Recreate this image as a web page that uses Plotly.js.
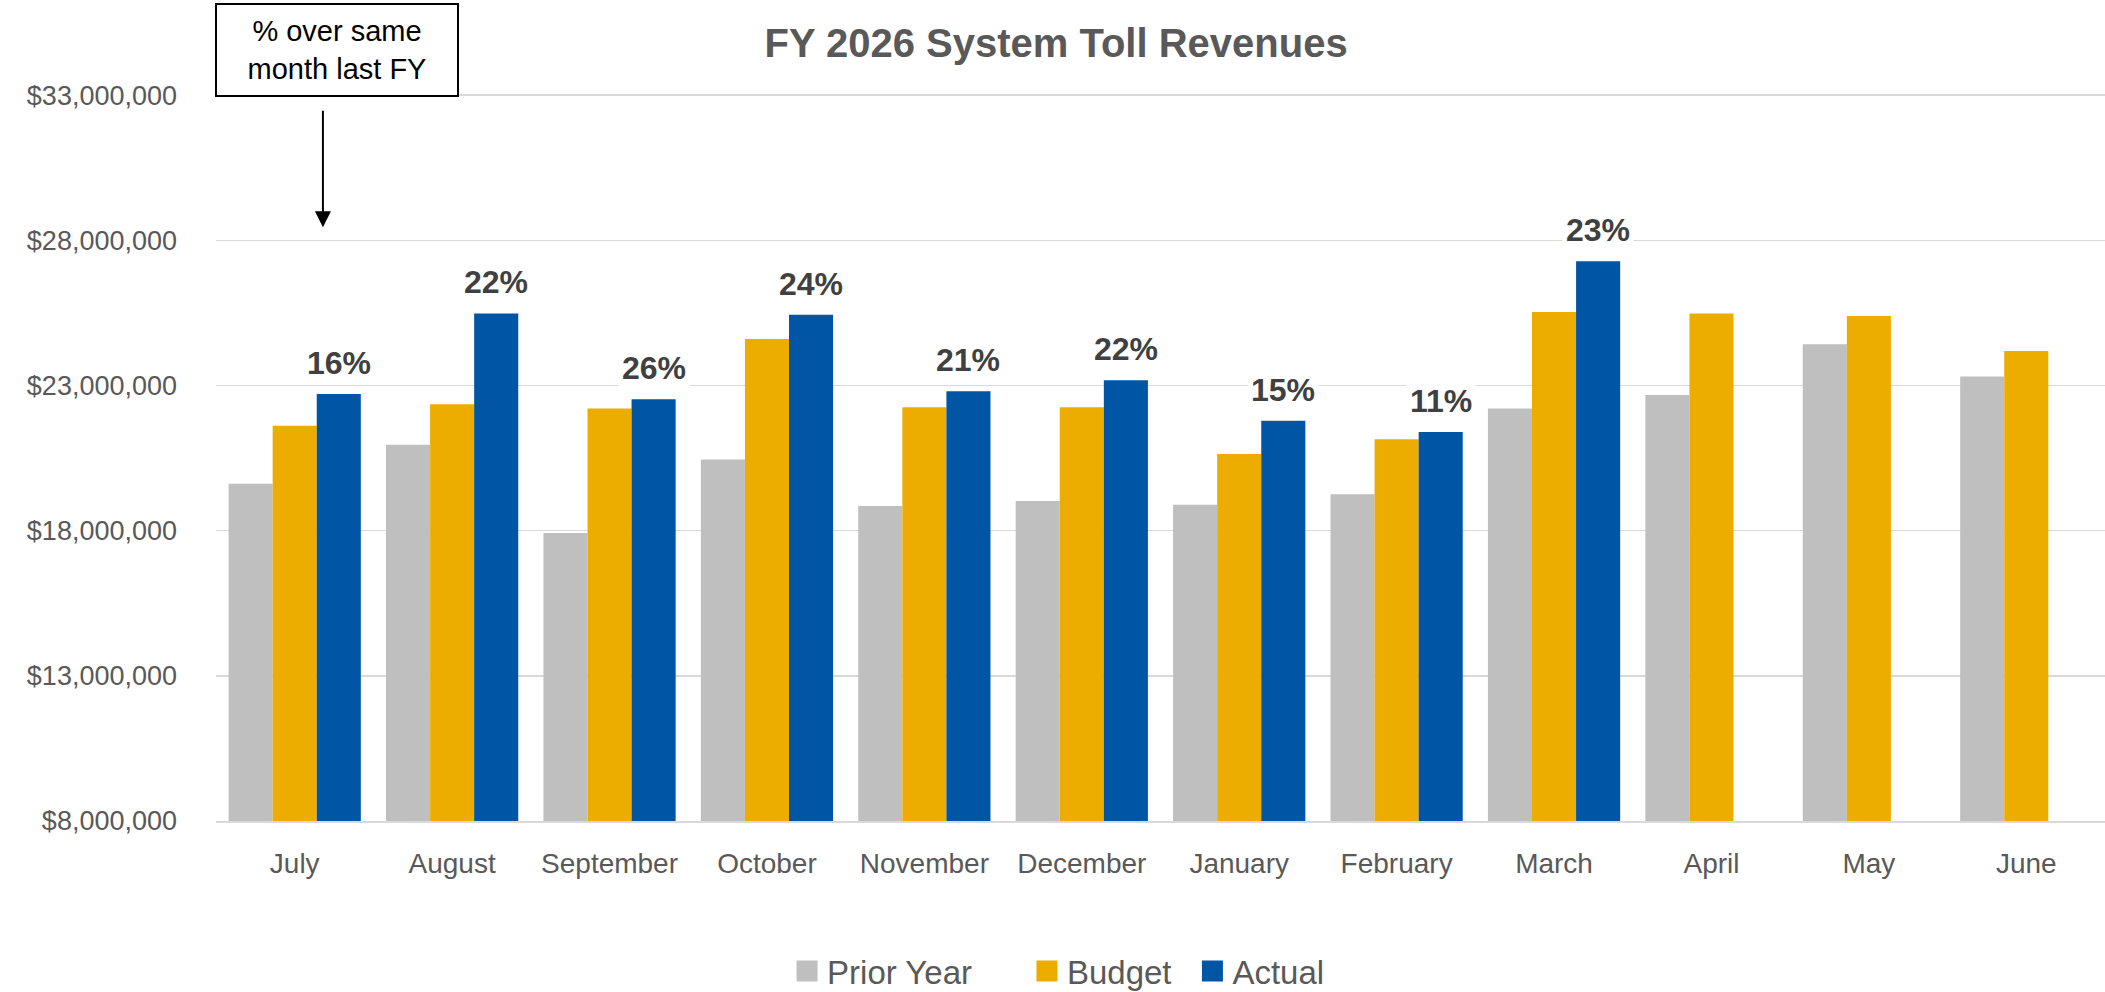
<!DOCTYPE html>
<html>
<head>
<meta charset="utf-8">
<script src="https://cdn.plot.ly/plotly-3.0.1.min.js"></script>
<style>
  html, body { margin: 0; padding: 0; background: #ffffff; }
  #chart { width: 2105px; height: 992px; }
</style>
</head>
<body>
<div id="chart"></div>
<script>
// ---------- data ----------
const months = ["July", "August", "September", "October", "November", "December",
                "January", "February", "March", "April", "May", "June"];
const priorYear = [19620000, 20960000, 17920000, 20450000, 18850000, 19020000,
                   18890000, 19250000, 22210000, 22670000, 24420000, 23310000];
const budget    = [21610000, 22350000, 22210000, 24600000, 22250000, 22250000,
                   20640000, 21150000, 25530000, 25480000, 25390000, 24190000];
const actual    = [22710000, 25480000, 22530000, 25440000, 22800000, 23180000,
                   21790000, 21400000, 27280000, null, null, null];
const pctLabels = ["16%", "22%", "26%", "24%", "21%", "22%", "15%", "11%", "23%", "", "", ""];
const seriesNames = ["Prior Year", "Budget", "Actual"];
const yTickVals = [8000000, 13000000, 18000000, 23000000, 28000000, 33000000];

// ---------- styles ----------
const FONT = "'Liberation Sans', Arial, sans-serif";
const colors = ["#BFBFBF", "#EDAD00", "#0055A5"];
const BARGAP = 0.16;
const seriesData = [priorYear, budget, actual];

const traces = seriesData.map((vals, i) => ({
  type: "bar",
  name: seriesNames[i],
  x: months,
  y: vals,
  marker: { color: colors[i] },
  showlegend: false,
  hoverinfo: "x+y+name"
}));

// legend entries (bigger square swatches), one legend each for exact placement
const legendIds = ["legend", "legend2", "legend3"];
seriesNames.forEach((nm, i) => {
  traces.push({
    type: "scatter",
    mode: "markers",
    name: nm,
    x: [months[0]],
    y: [null],
    marker: { symbol: "square", size: 16, color: colors[i], line: { color: colors[i], width: 5 } },
    showlegend: true,
    legend: legendIds[i],
    hoverinfo: "skip"
  });
});

// percentage annotations above the Actual bars
const barOffset = (1 - BARGAP) / 3;
const annotations = [];
actual.forEach((v, i) => {
  if (v !== null && pctLabels[i]) {
    annotations.push({
      xref: "x", yref: "y",
      x: i + barOffset, y: v,
      text: "<b>" + pctLabels[i] + "</b>",
      showarrow: false,
      xanchor: "center", yanchor: "bottom",
      yshift: 9,
      bgcolor: "#ffffff",
      borderpad: 3,
      font: { family: FONT, size: 32, color: "#404040" }
    });
  }
});

// call-out box and arrow
annotations.push({
  xref: "paper", yref: "paper",
  x: 0.064, y: 1.06,
  xanchor: "center", yanchor: "middle",
  text: "% over same<br>month last FY",
  showarrow: false,
  width: 238, height: 88,
  align: "center",
  bgcolor: "#ffffff",
  bordercolor: "#000000",
  borderwidth: 2,
  borderpad: 1,
  font: { family: FONT, size: 29, color: "#000000" }
});
annotations.push({
  xref: "paper", yref: "paper",
  x: 0.0566, y: 0.8168,
  text: "",
  showarrow: true,
  ax: 0, ay: -118,
  arrowhead: 2,
  arrowsize: 1.6,
  arrowwidth: 2,
  arrowcolor: "#000000",
  standoff: 0
});

const legendCommon = {
  orientation: "h",
  yref: "paper",
  y: -0.2063,
  yanchor: "middle",
  xanchor: "left",
  bgcolor: "rgba(0,0,0,0)",
  font: { family: FONT, size: 33, color: "#595959" }
};

const layout = {
  width: 2105,
  height: 992,
  margin: { l: 216, r: 0, t: 94, b: 171, pad: 0, autoexpand: false },
  paper_bgcolor: "#ffffff",
  plot_bgcolor: "#ffffff",
  barmode: "group",
  bargap: BARGAP,
  bargroupgap: 0,
  title: {
    text: "<b>FY 2026 System Toll Revenues</b>",
    font: { family: FONT, size: 40, color: "#595959" },
    xref: "container", yref: "container",
    x: 0.5017, y: 0.9567,
    xanchor: "center", yanchor: "middle"
  },
  xaxis: {
    type: "category",
    categoryorder: "array",
    categoryarray: months,
    range: [-0.5, months.length - 0.5],
    autorange: false,
    showgrid: false,
    showline: true,
    linecolor: "#D9D9D9",
    linewidth: 2,
    ticks: "",
    tickangle: 0,
    ticklabelstandoff: 16,
    tickfont: { family: FONT, size: 28, color: "#595959" },
    fixedrange: true
  },
  yaxis: {
    range: [8000000, 33040000],
    autorange: false,
    tickvals: yTickVals,
    tickformat: "$,.0f",
    showgrid: true,
    gridcolor: "#D9D9D9",
    gridwidth: 1.5,
    zeroline: false,
    showline: false,
    ticks: "",
    ticklabelstandoff: 38,
    tickfont: { family: FONT, size: 27, color: "#595959" },
    fixedrange: true
  },
  legend:  Object.assign({}, legendCommon, { x: 0.3023 }),
  legend2: Object.assign({}, legendCommon, { x: 0.4293 }),
  legend3: Object.assign({}, legendCommon, { x: 0.5169 }),
  annotations: annotations
};

Plotly.newPlot("chart", traces, layout, { displayModeBar: false, staticPlot: true });
</script>
</body>
</html>
